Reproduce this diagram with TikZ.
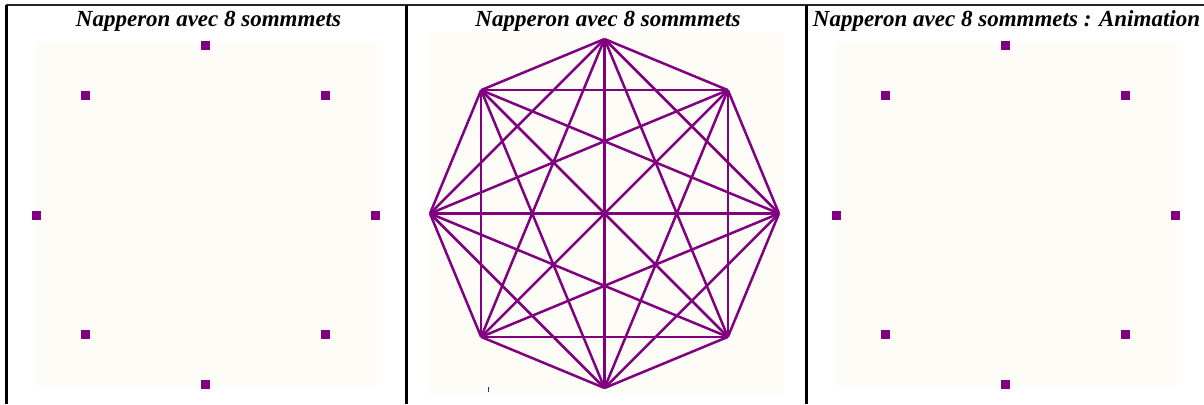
\documentclass[tikz,border=0pt]{standalone}
\usepackage{fontspec}
\setmainfont{Liberation Serif}
\definecolor{napp}{HTML}{800080}
\definecolor{creme}{HTML}{FDFCF7}
\tikzset{
  dotv/.style={fill=napp, draw=none, inner sep=0pt, minimum size=4.5pt, shape=rectangle},
  bg/.style={fill=creme, draw=none},
  frameline/.style={draw=black, line width=1.5pt},
  edge/.style={draw=napp, line width=1.25pt},
  title/.style={anchor=base, font=\fontsize{11.5pt}{13pt}\selectfont\bfseries\itshape, inner sep=0pt}
}
\begin{document}
\begin{tikzpicture}[x=0.5pt,y=-0.5pt]
\useasboundingbox (0,0) rectangle (1204,404);
% backgrounds
\path[bg] (35,42) rectangle (377,385);
\path[bg] (427,33) rectangle (784,393);
\path[bg] (835,42) rectangle (1177,385);
% frame
\draw[draw=black!85, line width=1pt] (6,5) -- (1204,5);
\draw[frameline] (6,4.5) -- (6,404);
\draw[frameline] (406,4.5) -- (406,404);
\draw[frameline] (806,4.5) -- (806,404);
% titles
\node[title] (t1) at (208.5,26) {Napperon avec 8 sommmets};
\node[title] (t2) at (608,26) {Napperon avec 8 sommmets};
\node[title] (t3) at (1006.5,26) {Napperon avec 8 sommmets : Animation};
% panel 1 and 3 dots
\foreach \k in {0,...,7} {
  \node[dotv] (a\k) at ({205.5+169.5*cos(90+45*\k)},{215-169.5*sin(90+45*\k)}) {};
  \node[dotv] (c\k) at ({1005.5+169.5*cos(90+45*\k)},{215-169.5*sin(90+45*\k)}) {};
  \coordinate (b\k) at ({604.5+174.5*cos(90+45*\k)},{213.5-174.5*sin(90+45*\k)});
}
% panel 2 complete graph
\foreach \i in {1,...,7} {
  \pgfmathtruncatemacro\jmax{\i-1}
  \foreach \j in {0,...,\jmax} {
    \draw[edge] (b\i) -- (b\j);
  }
}
\draw[napp, line width=0.5pt] (488,387) -- (488,392);
\end{tikzpicture}
\end{document}
